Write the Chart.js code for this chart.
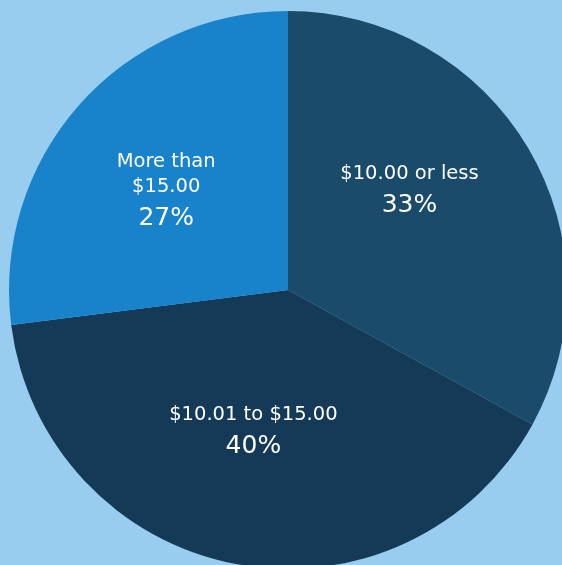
<!DOCTYPE html>
<html>
<head>
<meta charset="utf-8">
<script src="https://cdn.jsdelivr.net/npm/chart.js@4/dist/chart.umd.min.js"></script>
<style>
  html, body { margin: 0; padding: 0; width: 562px; height: 565px; overflow: hidden; background: #98cdef; }
  #wrap { position: absolute; left: 9px; top: 11px; width: 558px; height: 558px; }
</style>
</head>
<body>
<div id="wrap"><canvas id="c" width="558" height="558"></canvas></div>
<script>
const categories = ["$10.00 or less", "$10.01 to $15.00", "More than $15.00"];
const labelLines = [["$10.00 or less"], ["$10.01 to $15.00"], ["More than", "$15.00"]];
const shares = [33, 40, 27];
const pctLabels = ["33%", "40%", "27%"];
const sliceColors = ["#1a4b6a", "#143a57", "#1883ca"];

// label placement: angle adjustment (deg) relative to slice middle, distance fraction of radius
const labelPlace = [{da: -9, r: 0.565}, {da: 3, r: 0.52}, {da: -2, r: 0.565}];

const labelPlugin = {
  id: 'sliceLabels',
  afterDatasetsDraw(chart) {
    const ctx = chart.ctx;
    const meta = chart.getDatasetMeta(0);
    meta.data.forEach((arc, i) => {
      const p = arc.getProps(['x', 'y', 'startAngle', 'endAngle', 'outerRadius'], true);
      const mid = (p.startAngle + p.endAngle) / 2 + labelPlace[i].da * Math.PI / 180;
      const d = p.outerRadius * labelPlace[i].r;
      const cx = p.x + Math.cos(mid) * d;
      const cy = p.y + Math.sin(mid) * d;
      const lines = labelLines[i];
      const lineH = 25;
      const pctGap = 32;
      const total = (lines.length - 1) * lineH + pctGap;
      let y = cy - total / 2;
      ctx.save();
      ctx.fillStyle = '#ffffff';
      ctx.textAlign = 'center';
      ctx.textBaseline = 'middle';
      ctx.font = '19.5px "DejaVu Sans", sans-serif';
      lines.forEach((ln, k) => { ctx.fillText(ln, cx, y + k * lineH); });
      ctx.font = '25px "DejaVu Sans", sans-serif';
      ctx.fillText(pctLabels[i], cx, y + (lines.length - 1) * lineH + pctGap);
      ctx.restore();
    });
  }
};

new Chart(document.getElementById('c'), {
  type: 'pie',
  data: {
    labels: categories,
    datasets: [{
      data: shares,
      backgroundColor: sliceColors,
      borderWidth: 0
    }]
  },
  options: {
    responsive: false,
    animation: false,
    layout: { padding: 0 },
    plugins: { legend: { display: false }, tooltip: { enabled: false } }
  },
  plugins: [labelPlugin]
});
</script>
</body>
</html>
